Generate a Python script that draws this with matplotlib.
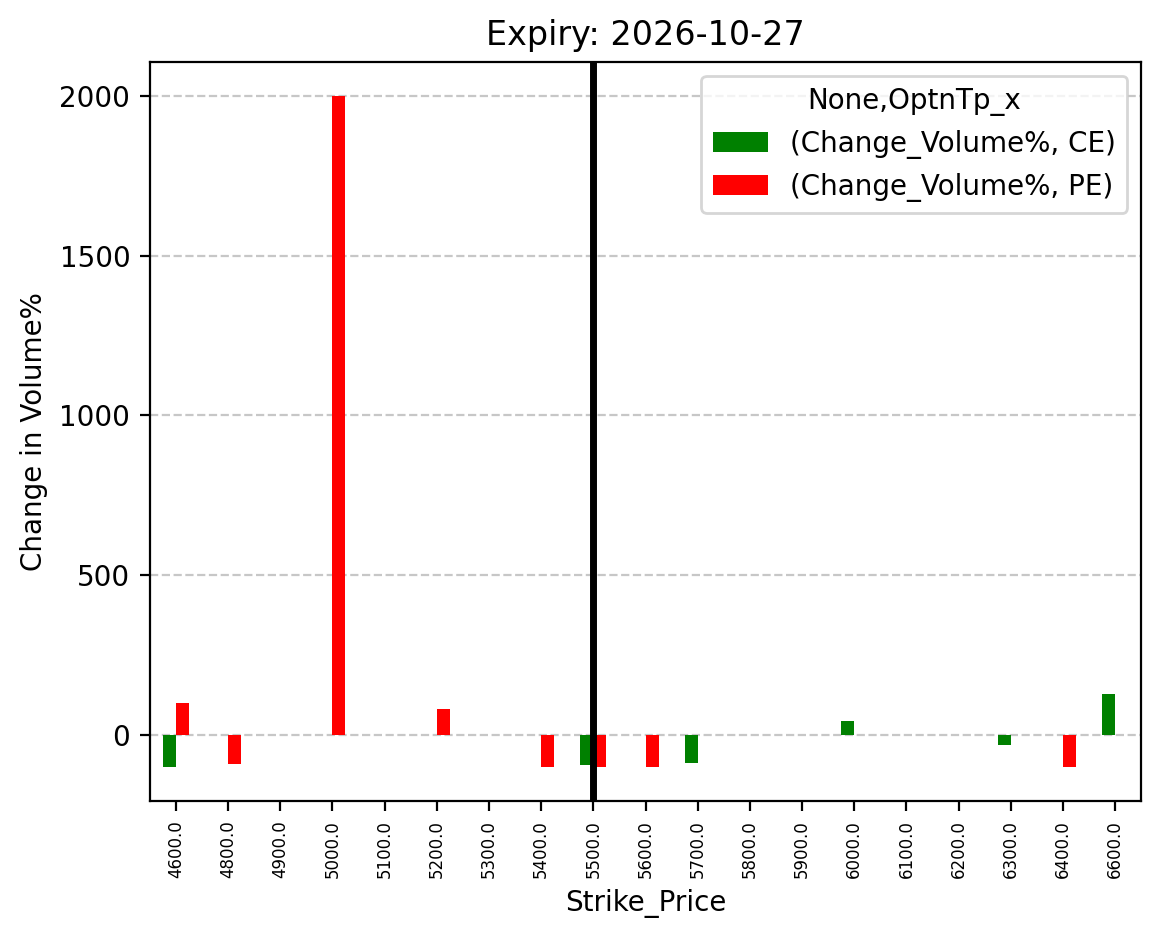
import numpy as np
import pandas as pd
import matplotlib
matplotlib.use("Agg")
import matplotlib.pyplot as plt

# strikes and % change in volume for calls / puts
strikes = [4600.0, 4800.0, 4900.0, 5000.0, 5100.0, 5200.0, 5300.0, 5400.0, 5500.0,
           5600.0, 5700.0, 5800.0, 5900.0, 6000.0, 6100.0, 6200.0, 6300.0, 6400.0, 6600.0]
ce_change = [-100, 0, 0, 0, 0, 0, 0, 0, -92, 0, -86, 0, 0, 44, 0, 0, -30, 0, 130]
pe_change = [100, -90, 0, 2000, 0, 81, 0, -100, -100, -100, 0, 0, 0, 0, 0, 0, 0, -100, 0]
atm_strike = 5500.0
expiry = "2026-10-27"

cols = pd.MultiIndex.from_tuples([("Change_Volume%", "CE"), ("Change_Volume%", "PE")],
                                 names=[None, "OptnTp_x"])
df = pd.DataFrame(np.column_stack([ce_change, pe_change]), index=pd.Index(strikes, name="Strike_Price"),
                  columns=cols)

fig, ax = plt.subplots(figsize=(5.805, 4.695), dpi=200)
fig.subplots_adjust(left=0.129, right=0.983, top=0.934, bottom=0.147)

df.plot(kind="bar", ax=ax, color=["green", "red"])
ax.grid(axis="y", linestyle="--", alpha=0.7)
ax.set_axisbelow(True)

# mark ATM strike
atm_idx = strikes.index(atm_strike)
ax.axvline(atm_idx, color="black", linewidth=2.5)

ax.set_title(f"Expiry: {expiry}")
ax.set_xlabel("Strike_Price")
ax.set_ylabel("Change in Volume%")
ax.tick_params(axis="x", labelsize=6, rotation=90)
ax.legend(title="None,OptnTp_x", loc="upper right")

plt.savefig("out.png", dpi=200)
